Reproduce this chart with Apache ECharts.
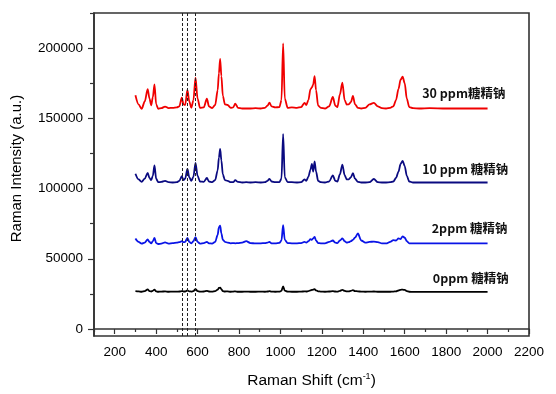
<!DOCTYPE html>
<html>
<head>
<meta charset="utf-8">
<script src="https://cdn.jsdelivr.net/npm/echarts@6/dist/echarts.min.js"></script>
<style>html,body{margin:0;padding:0;background:#fff}#c{width:556px;height:394px}</style>
</head>
<body>
<div id="c"></div>
<script>
const shifts = [
300, 315, 330, 345, 359, 368, 376, 384, 392, 400,
410, 425, 443, 460, 480, 500, 512, 524, 532, 540,
551, 560, 570, 580, 590, 600, 612, 630, 645, 655,
670, 685, 697, 703, 709, 715, 722, 732, 745, 760,
772, 782, 795, 815, 835, 855, 880, 905, 925, 938,
947, 957, 975, 995, 1005, 1013, 1021, 1035, 1055, 1080,
1100, 1116, 1125, 1135, 1145, 1152, 1158, 1165, 1172, 1182,
1195, 1215, 1235, 1253, 1265, 1275, 1287, 1299, 1310, 1320,
1330, 1340, 1350, 1360, 1374, 1390, 1410, 1430, 1451, 1470,
1490, 1510, 1530, 1545, 1558, 1570, 1580, 1590, 1600, 1610,
1622, 1640, 1670, 1720, 1800, 1900, 2000];

const ppm30 = [
166400, 160000, 156800, 162000, 170700, 164000, 159300, 165000, 174200, 160000,
156800, 157200, 158400, 157300, 157500, 157800, 158500, 164700, 160000, 159500,
170200, 162000, 157500, 163000, 178900, 164000, 157500, 157800, 164000, 158500,
157200, 159500, 170000, 182000, 192400, 180000, 166000, 160000, 159500, 157500,
157800, 160500, 157500, 157000, 157000, 157000, 157200, 157000, 157500, 159000,
161200, 158500, 157800, 158000, 163000, 203300, 164000, 157500, 157800, 157500,
158000, 161000, 159500, 163000, 170700, 172000, 174000, 180000, 170000, 159000,
157500, 157000, 158500, 165200, 159000, 158000, 167000, 175400, 163000, 159800,
160000, 161500, 165900, 160000, 157500, 157000, 157500, 159900, 161000, 158500,
157200, 157000, 157500, 158500, 163000, 171000, 177500, 179600, 175000, 164000,
158000, 157200, 157000, 157300, 157000, 157000, 157000];

const ppm10 = [
110500, 106500, 104800, 107000, 111200, 107500, 106000, 109000, 116400, 107000,
104500, 104800, 105500, 104500, 104300, 104500, 105500, 108800, 106000, 107000,
114000, 108000, 105500, 108500, 118300, 109000, 105000, 104800, 107500, 105000,
104500, 106000, 113000, 122000, 128200, 120000, 110000, 106000, 105500, 104500,
104500, 106000, 104700, 104300, 104500, 104300, 104500, 104300, 104500, 105500,
106900, 105000, 104500, 104500, 107000, 138800, 108000, 104500, 104500, 104300,
104500, 106500, 105500, 108500, 113500, 117600, 112000, 119400, 112000, 105500,
104500, 104300, 105000, 109300, 105500, 105000, 110000, 117100, 109500, 106500,
106500, 108000, 110900, 107000, 104700, 104300, 104300, 104500, 106800, 104500,
104300, 104300, 104500, 105000, 107500, 112000, 117500, 119700, 116000, 109000,
105000, 104300, 104300, 104300, 104300, 104300, 104300];

const ppm2 = [
64400, 62000, 60800, 61500, 63700, 62000, 61000, 62500, 64900, 61200,
60500, 60800, 61600, 60800, 61200, 61500, 61800, 62500, 61800, 62000,
64900, 62000, 61000, 62500, 65400, 62000, 60800, 61200, 62000, 61000,
60800, 62000, 67000, 72500, 73500, 68000, 63500, 62000, 61500, 61000,
61200, 61000, 61200, 61500, 62500, 61200, 60900, 61000, 61200, 61500,
62000, 61000, 61000, 61300, 63000, 73900, 63500, 61200, 61000, 61000,
61200, 62000, 61500, 62500, 64000, 63500, 64500, 65600, 63000, 61200,
61000, 61000, 62000, 63000, 61500, 61200, 63000, 64500, 62500, 61500,
61800, 62500, 63500, 65000, 68000, 63000, 61500, 62000, 62200, 61800,
61000, 60900, 62000, 63200, 63000, 64500, 64000, 66000, 65000, 62500,
61000, 60900, 60900, 60900, 60900, 60900, 60900];

const ppm0 = [
27000, 26800, 26500, 27000, 28200, 27000, 26700, 27200, 28000, 26800,
26500, 26600, 26800, 26500, 26600, 26600, 26700, 27000, 26700, 26700,
27500, 26800, 26600, 27000, 28300, 27000, 26600, 26700, 27200, 26700,
26600, 27000, 28000, 29200, 29500, 28200, 27000, 26700, 26800, 26500,
26600, 26800, 26500, 26500, 26600, 26500, 26500, 26600, 26500, 26700,
27000, 26600, 26500, 26600, 27200, 30400, 27300, 26600, 26500, 26500,
26600, 26800, 26700, 27000, 27500, 27800, 28000, 28300, 27500, 26800,
26600, 26500, 26700, 27000, 26700, 26600, 27200, 27800, 27200, 26800,
26800, 27200, 27600, 27000, 26800, 26600, 26500, 26600, 26700, 26500,
26500, 26500, 26500, 26600, 26800, 27400, 27900, 28000, 27800, 27000,
26500, 26400, 26400, 26400, 26400, 26400, 26400];

const seriesNames = ['30 ppm糖精钠', '10 ppm 糖精钠', '2ppm 糖精钠', '0ppm 糖精钠'];
const seriesValues = [ppm30, ppm10, ppm2, ppm0];
const seriesColors = ['#f00000', '#0a0a80', '#0a14e6', '#000000'];
// label anchor (left-middle) in data coordinates
const labelAnchorX = [1682, 1682, 1728, 1733];
const labelAnchorY = [167600, 113500, 72000, 36100];

const xMajorTicks = [200, 400, 600, 800, 1000, 1200, 1400, 1600, 1800, 2000, 2200];
const xMinorTicks = [100, 300, 500, 700, 900, 1100, 1300, 1500, 1700, 1900, 2100];
const yMajorTicks = [0, 50000, 100000, 150000, 200000];
const yMinorTicks = [25000, 75000, 125000, 175000, 225000];
const dashedLines = [525, 550, 590];

const chart = echarts.init(document.getElementById('c'), null, {renderer: 'canvas'});
const axisColor = '#333';
const font = '"Liberation Sans", Arial, sans-serif';

const series = seriesValues.map((vals, i) => ({
  type: 'line',
  name: seriesNames[i],
  xAxisIndex: 0, yAxisIndex: 0,
  data: shifts.map((s, j) => [s, vals[j]]),
  symbol: 'none',
  smooth: 0.3,
  smoothMonotone: 'x',
  lineStyle: {color: seriesColors[i], width: 1.8},
  itemStyle: {color: seriesColors[i]},
  z: 3,
  markPoint: {
    symbol: 'rect', symbolSize: 1,
    itemStyle: {color: 'rgba(0,0,0,0)'},
    label: {
      show: true, position: 'right', distance: 0,
      formatter: seriesNames[i],
      color: '#111', fontSize: 12.5, fontWeight: 'bold',
      fontFamily: '"Noto Sans CJK SC", "Noto Sans", sans-serif'
    },
    data: [{coord: [labelAnchorX[i], labelAnchorY[i]]}]
  }
}));
series[0].markLine = {
  symbol: 'none', silent: true,
  label: {show: false},
  lineStyle: {color: '#222', type: [3, 2], width: 1},
  data: dashedLines.map(v => ({xAxis: v}))
};

const plain = v => String(v);

chart.setOption({
  animation: false,
  backgroundColor: '#fff',
  grid: {left: 94, right: 27, top: 13, bottom: 58, show: true, borderColor: axisColor, borderWidth: 1.6},
  xAxis: [{
    type: 'value', min: 100, max: 2200, position: 'bottom',
    name: '{n|Raman Shift (cm}{s|-1}{n|)}',
    nameLocation: 'middle', nameGap: 36,
    nameTextStyle: {rich: {
      n: {fontSize: 15.5, fontFamily: font, color: '#000'},
      s: {fontSize: 9, fontFamily: font, color: '#000', verticalAlign: 'top', padding: [0, 0, 8, 0]}
    }},
    axisLine: {show: true, lineStyle: {color: axisColor, width: 1.6}},
    axisTick: {show: true, inside: false, length: 5, customValues: xMajorTicks, lineStyle: {color: axisColor, width: 1.2}},
    axisLabel: {customValues: xMajorTicks, formatter: plain, color: '#000', fontSize: 13.5, fontFamily: font, margin: 9},
    splitLine: {show: false}
  }, {
    type: 'value', min: 100, max: 2200, position: 'bottom', gridIndex: 0,
    axisLine: {show: false},
    axisTick: {show: true, length: 3, customValues: xMinorTicks, lineStyle: {color: axisColor, width: 1.2}},
    axisLabel: {show: false},
    splitLine: {show: false}
  }],
  yAxis: [{
    type: 'value', min: -5000, max: 225000, position: 'left',
    name: 'Raman Intensity (a.u.)',
    nameLocation: 'middle', nameGap: 70,
    nameTextStyle: {fontSize: 15, fontFamily: font, color: '#000', padding: [0, 0, 0, 12]},
    axisLine: {show: true, lineStyle: {color: axisColor, width: 1.6}},
    axisTick: {show: true, length: 6, customValues: yMajorTicks, lineStyle: {color: axisColor, width: 1.2}},
    axisLabel: {customValues: yMajorTicks, formatter: plain, color: '#000', fontSize: 13.5, fontFamily: font, margin: 11},
    splitLine: {show: false}
  }, {
    type: 'value', min: -5000, max: 225000, position: 'left', gridIndex: 0,
    axisLine: {show: false},
    axisTick: {show: true, length: 4, customValues: yMinorTicks, lineStyle: {color: axisColor, width: 1.2}},
    axisLabel: {show: false},
    splitLine: {show: false}
  }],
  series: series
});
</script>
</body>
</html>
